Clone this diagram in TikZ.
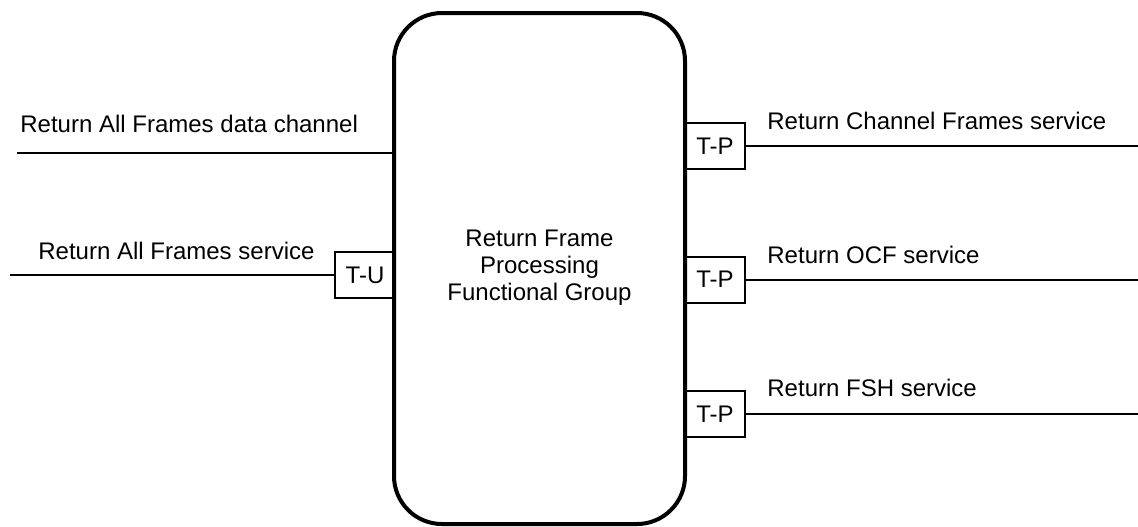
\documentclass[tikz,border=0pt]{standalone}
\usepackage{fontspec}
\setmainfont{Liberation Sans}
\usepackage{tikz}

\begin{document}
\begin{tikzpicture}[x=0.5pt, y=-0.5pt,
  every node/.style={font=\fontsize{12}{13.5}\selectfont},
  group/.style={draw, rectangle, rounded corners=24pt, line width=2pt, minimum width=145.5pt, minimum height=255.5pt},
  port/.style={draw, rectangle, line width=1pt, minimum width=30pt, minimum height=23pt, inner sep=0pt},
  svc/.style={anchor=base west, inner sep=0pt},
  link/.style={line width=1pt},
  datalink/.style={line width=0.6pt}]
\useasboundingbox (0,0) rectangle (1138,526);
\node[group] (rfp) at (539.5,268.5) {};
\node[align=center] (rfptext) at (539.5,268) {Return Frame\\Processing\\Functional Group};

\node[port] (tp1) at (715,146) {T-P};
\node[port] (tp2) at (715,279.5) {T-P};
\node[port] (tp3) at (715,414) {T-P};
\node[port] (tu) at (365,275) {T-U};

\coordinate (rightedge) at (1138,0);
\coordinate (leftedge) at (10,0);
\coordinate (dcin) at (17,153);

\node[svc] (lbldc) at (20,132) {Return All Frames data channel};
\node[svc] (lblraf) at (38,259) {Return All Frames service};
\node[svc] (lblrcf) at (767,129) {Return Channel Frames service};
\node[svc] (lblocf) at (767,263) {Return OCF service};
\node[svc] (lblfsh) at (767,396) {Return FSH service};

\draw[datalink] (dcin) -- (dcin -| rfp.west);
\draw[link] (tu.west) -- (tu.west -| leftedge);
\draw[link] (tp1.east) -- (tp1.east -| rightedge);
\draw[link] (tp2.east) -- (tp2.east -| rightedge);
\draw[link] (tp3.east) -- (tp3.east -| rightedge);
\end{tikzpicture}
\end{document}
